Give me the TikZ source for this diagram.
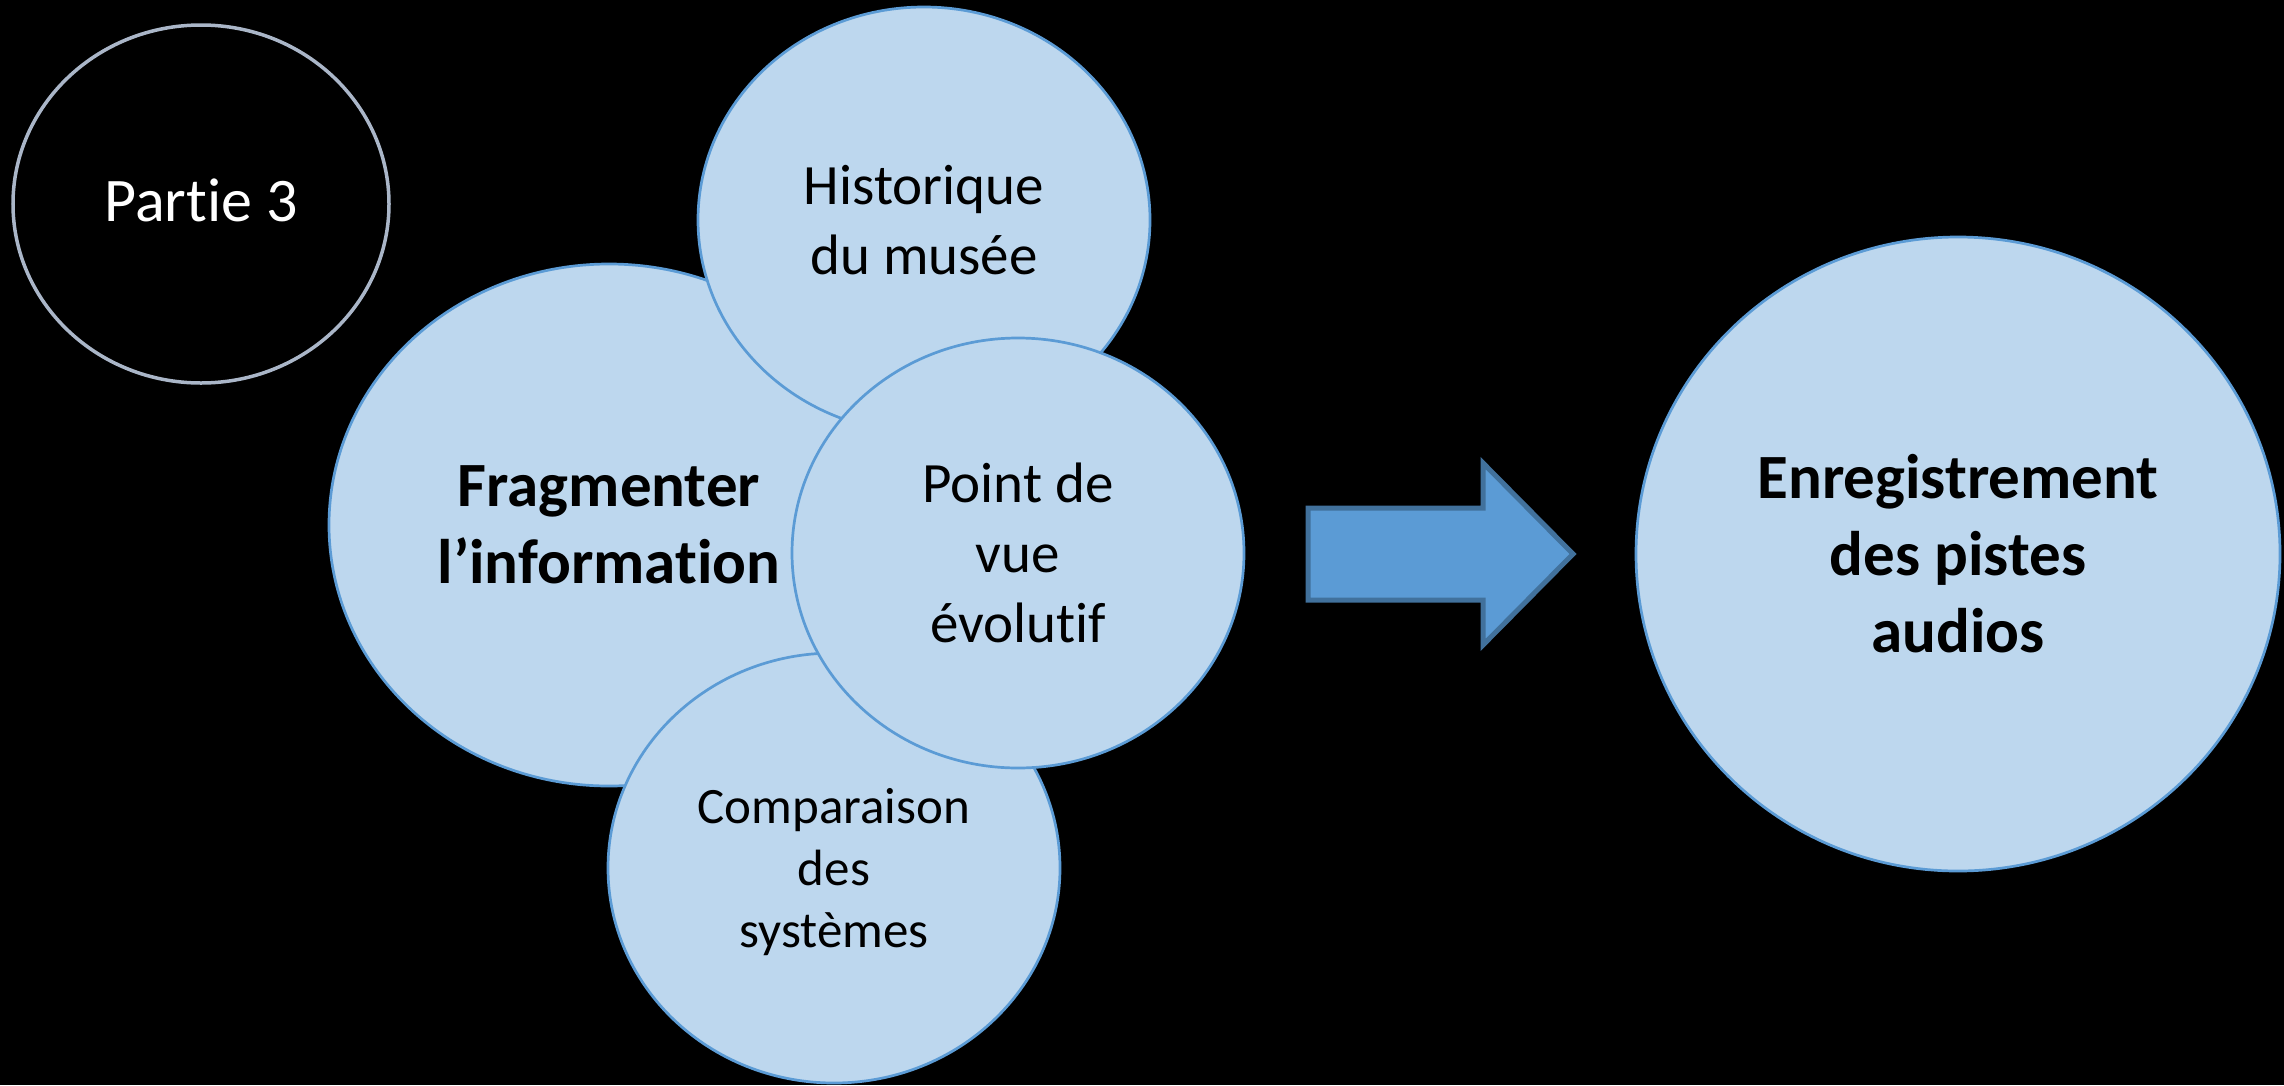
\documentclass[tikz,border=0pt]{standalone}
\usepackage{fontspec}
\setmainfont{Carlito}[Ligatures={NoCommon,NoContextual}]
\usetikzlibrary{shapes.geometric}
\definecolor{bubfill}{HTML}{BDD7EE}
\definecolor{bubline}{HTML}{5B9BD5}
\definecolor{arrfill}{HTML}{5B9BD5}
\definecolor{arrline}{HTML}{41719C}
\definecolor{ringline}{RGB}{170,182,200}
\begin{document}
\begin{tikzpicture}[x=1bp,y=-1bp,
  bubble/.style={ellipse, draw=bubline, fill=bubfill, line width=2.7bp,
    inner sep=0pt, align=center, text=black},
  bigtext/.style={font={\fontsize{63bp}{77bp}\selectfont\bfseries}},
  midtext/.style={font={\fontsize{57bp}{70bp}\selectfont}},
  smalltext/.style={font={\fontsize{51bp}{62bp}\selectfont}},
  ring/.style={ellipse, draw=ringline, fill=black, line width=3.5bp,
    inner sep=0pt, text=white, font={\fontsize{62bp}{76bp}\selectfont}},
  blockarrow/.style={fill=arrfill, draw=arrline, line width=5bp, line join=miter}]
\fill[black] (0,0) rectangle (2284,1085);
\useasboundingbox (0,0) rectangle (2284,1085);

\node[ring, minimum width=376bp, minimum height=358bp] (part) at (201,204) {\raisebox{7bp}{Partie 3}};

\node[bubble, bigtext, minimum width=560bp, minimum height=522bp] (frag) at (609,525)
  {Fragmenter\\l’information};
\node[bubble, midtext, minimum width=452bp, minimum height=426bp] (hist) at (924,220)
  {Historique\\du musée};
\node[bubble, smalltext, text depth=0pt, minimum width=452bp, minimum height=430bp] (comp) at (834,868)
  {Comparaison\\des\\systèmes};
\node[bubble, midtext, minimum width=452bp, minimum height=430bp] (pdv) at (1018,553)
  {Point de\\vue\\évolutif};

\node[bubble, bigtext, minimum width=644bp, minimum height=634bp] (enr) at (1958,554)
  {Enregistrement\\des pistes\\audios};

\draw[blockarrow] (1308,508) -- (1483,508) -- (1483,463) -- (1573,554)
  -- (1483,645) -- (1483,600) -- (1308,600) -- cycle;
\end{tikzpicture}
\end{document}
